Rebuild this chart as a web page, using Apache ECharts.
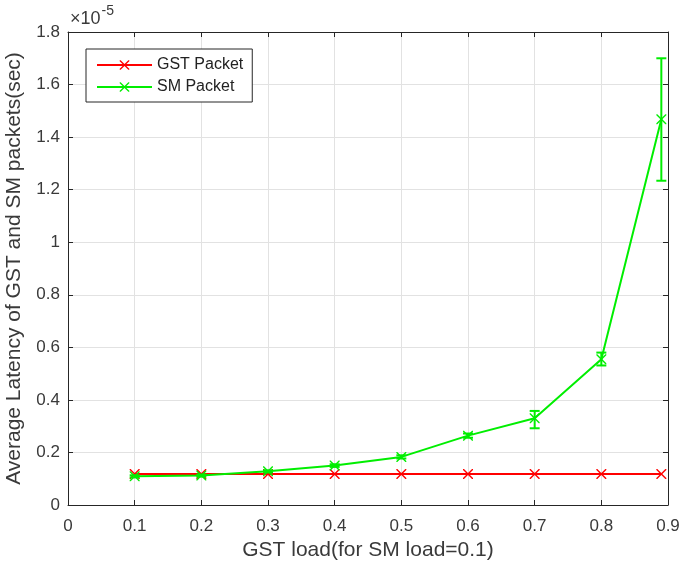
<!DOCTYPE html>
<html><head><meta charset="utf-8">
<script src="https://cdn.jsdelivr.net/npm/echarts@6/dist/echarts.min.js"></script>
<style>html,body{margin:0;padding:0;background:#fff}#c{width:681px;height:567px}</style>
</head><body><div id="c"></div>
<script>
// values in units of 1e-5 sec
const loads = [0.1, 0.2, 0.3, 0.4, 0.5, 0.6, 0.7, 0.8, 0.89];
const gstLatency = [0.118, 0.118, 0.118, 0.118, 0.118, 0.118, 0.118, 0.118, 0.118];
const smLatency = [0.109, 0.112, 0.128, 0.150, 0.183, 0.264, 0.330, 0.555, 1.468];
const smErrLow = [0.105, 0.108, 0.124, 0.145, 0.177, 0.256, 0.292, 0.531, 1.234];
const smErrHigh = [0.113, 0.116, 0.132, 0.155, 0.189, 0.272, 0.358, 0.580, 1.700];
const xTicks = ['0','0.1','0.2','0.3','0.4','0.5','0.6','0.7','0.8','0.9'];
const yTicks = ['0','0.2','0.4','0.6','0.8','1','1.2','1.4','1.6','1.8'];

const xPath = 'path://M0,0 L2,0 L10,8 L18,0 L20,0 L20,2 L12,10 L20,18 L20,20 L18,20 L10,12 L2,20 L0,20 L0,18 L8,10 L0,2 Z';
const axisColor = '#262626';
const textColor = '#3a3a3a';
const font = 'Liberation Sans, Arial, sans-serif';

const chart = echarts.init(document.getElementById('c'));
const gstData = loads.map((x, i) => [x, gstLatency[i]]);
const smData = loads.map((x, i) => [x, smLatency[i]]);
const errData = loads.map((x, i) => [x, smErrLow[i], smErrHigh[i]]);

function tickFmtX(v){ const i = Math.round(v*10); return xTicks[i] !== undefined ? xTicks[i] : ''; }
function tickFmtY(v){ const i = Math.round(v*5); return yTicks[i] !== undefined ? yTicks[i] : ''; }

chart.setOption({
  animation: false,
  grid: { left: 68, right: 13, top: 32, bottom: 62, containLabel: false, outerBoundsMode: 'none' },
  graphic: [{
    type: 'text', left: 70, top: 4,
    style: {
      text: '{a|×10}{b|-5}',
      rich: {
        a: { fontSize: 18, fill: textColor, fontFamily: font, verticalAlign: 'bottom', lineHeight: 23 },
        b: { fontSize: 14, fill: textColor, fontFamily: font, verticalAlign: 'top', padding: [0,0,10,1] }
      }
    }
  }],
  legend: {
    left: 86, top: 49, orient: 'vertical',
    borderColor: axisColor, borderWidth: 1, borderRadius: 0,
    backgroundColor: '#fff',
    padding: [8, 9, 7, 10], itemGap: 6,
    itemWidth: 55, itemHeight: 12,
    textStyle: { fontSize: 16, color: '#222', fontFamily: font },
    data: ['GST Packet', 'SM Packet']
  },
  xAxis: [{
    type: 'value', min: 0, max: 0.9, interval: 0.1, position: 'bottom',
    name: 'GST load(for SM load=0.1)', nameLocation: 'middle', nameGap: 35,
    nameTextStyle: { fontSize: 21, color: textColor, fontFamily: font },
    axisLine: { show: true, onZero: false, lineStyle: { color: axisColor, width: 1 } },
    axisTick: { show: true, inside: true, length: 5, lineStyle: { color: axisColor } },
    axisLabel: { fontSize: 17, color: textColor, fontFamily: font, margin: 13, formatter: tickFmtX },
    splitLine: { show: true, lineStyle: { color: '#e2e2e2', width: 1 } }
  }, {
    type: 'value', min: 0, max: 0.9, interval: 0.1, position: 'top',
    axisLine: { show: true, onZero: false, lineStyle: { color: axisColor, width: 1 } },
    axisTick: { show: true, inside: true, length: 5, lineStyle: { color: axisColor } },
    axisLabel: { show: false }, splitLine: { show: false }
  }],
  yAxis: [{
    type: 'value', min: 0, max: 1.8, interval: 0.2, position: 'left',
    name: 'Average Latency of GST and SM packets(sec)', nameLocation: 'middle', nameGap: 43,
    nameTextStyle: { fontSize: 21, color: textColor, fontFamily: font },
    axisLine: { show: true, onZero: false, lineStyle: { color: axisColor, width: 1 } },
    axisTick: { show: true, inside: true, length: 5, lineStyle: { color: axisColor } },
    axisLabel: { fontSize: 17, color: textColor, fontFamily: font, margin: 8, formatter: tickFmtY },
    splitLine: { show: true, lineStyle: { color: '#e2e2e2', width: 1 } }
  }, {
    type: 'value', min: 0, max: 1.8, interval: 0.2, position: 'right',
    axisLine: { show: true, onZero: false, lineStyle: { color: axisColor, width: 1 } },
    axisTick: { show: true, inside: true, length: 5, lineStyle: { color: axisColor } },
    axisLabel: { show: false }, splitLine: { show: false }
  }],
  series: [{
    name: 'GST Packet', type: 'line', data: gstData, z: 3,
    color: '#ff0000',
    lineStyle: { color: '#ff0000', width: 2 },
    itemStyle: { color: '#ff0000' },
    symbol: xPath, symbolSize: 10, showSymbol: true
  }, {
    name: 'SM Packet', type: 'line', data: smData, z: 4,
    color: '#00ee00',
    lineStyle: { color: '#00ee00', width: 2 },
    itemStyle: { color: '#00ee00' },
    symbol: xPath, symbolSize: 10, showSymbol: true
  }, {
    name: 'SM error', type: 'custom', data: errData, z: 5,
    encode: { x: 0, y: [1, 2] },
    renderItem: function (params, api) {
      const x = api.value(0);
      const lo = api.coord([x, api.value(1)]);
      const hi = api.coord([x, api.value(2)]);
      const w = 5;
      const st = { stroke: '#00ee00', lineWidth: 2 };
      return { type: 'group', children: [
        { type: 'line', shape: { x1: lo[0], y1: lo[1], x2: hi[0], y2: hi[1] }, style: st },
        { type: 'line', shape: { x1: lo[0]-w, y1: lo[1], x2: lo[0]+w, y2: lo[1] }, style: st },
        { type: 'line', shape: { x1: hi[0]-w, y1: hi[1], x2: hi[0]+w, y2: hi[1] }, style: st }
      ]};
    }
  }]
});
</script></body></html>
